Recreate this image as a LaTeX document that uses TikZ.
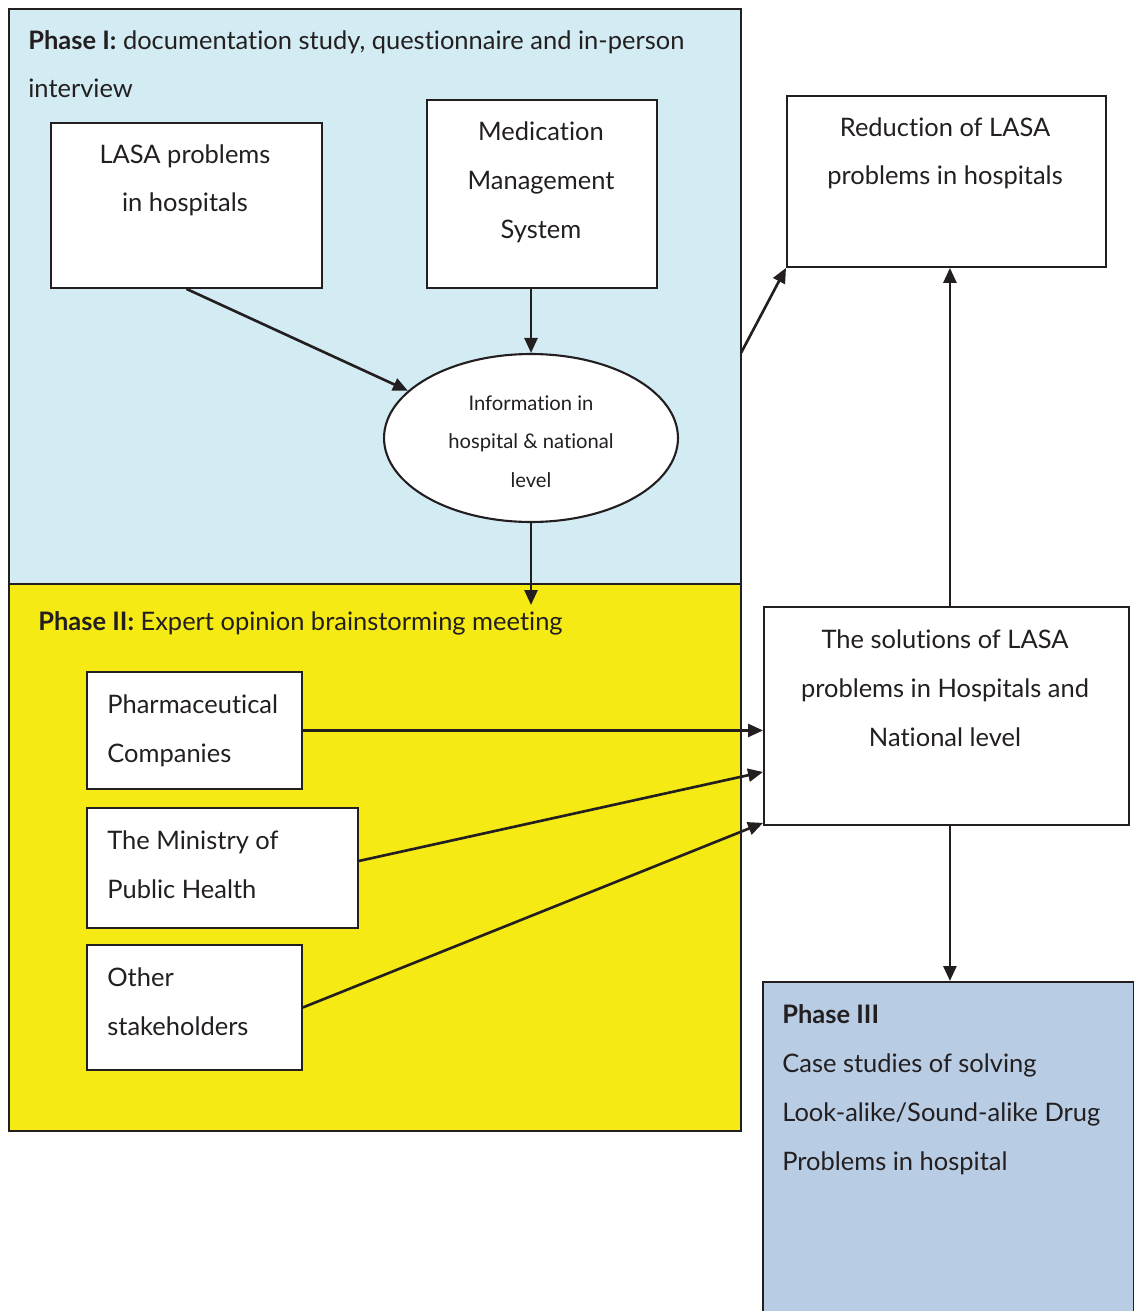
\documentclass[tikz,border=0pt]{standalone}
\usepackage{fontspec}
\setmainfont{Lato}[Ligatures={NoCommon}]
\usetikzlibrary{arrows.meta,shapes.geometric}
\definecolor{phaseblue}{HTML}{D3ECF3}
\definecolor{phaseyellow}{HTML}{F5EA14}
\definecolor{phasesteel}{HTML}{B8CCE4}
\definecolor{ink}{HTML}{231F20}
\tikzset{
  phasebox/.style={draw=ink, line width=1.1pt, anchor=north west, inner sep=0pt},
  box/.style={draw=ink, fill=white, line width=1.1pt, anchor=north west, inner sep=0pt},
  boxtext/.style={text=ink, align=center, anchor=base, inner sep=0pt, font=\fontsize{14.5}{27.8}\selectfont},
  lefttext/.style={boxtext, align=left, anchor=base west},
  smalltext/.style={boxtext, font=\fontsize{11.5}{21.8}\selectfont},
  flow/.style={draw=ink, line width=1.5pt, -{Triangle[length=3mm,width=2.6mm]}},
}
\begin{document}
\begin{tikzpicture}[x=0.02cm, y=-0.02cm]
\useasboundingbox (0,0) rectangle (1133,1311);
% phase areas (text placed by its last baseline)
\node[phasebox, fill=phaseblue, minimum width=14.64cm, minimum height=11.50cm] (phase1) at (8,8) {};
\node[phasebox, fill=phaseyellow, minimum width=14.64cm, minimum height=10.94cm] (phase2) at (8,583) {};
\node[phasebox, fill=phasesteel, minimum width=7.42cm, minimum height=8cm] (phase3) at (762,981) {};
\node[lefttext] (phase1-title) at (28,98) {\textbf{Phase I:} documentation study, questionnaire and in-person\\interview};
\node[lefttext] (phase2-title) at (38,630) {\textbf{Phase II:} Expert opinion brainstorming meeting};
\node[lefttext] (phase3-title) at (782,1170) {\textbf{Phase III}\\Case studies of solving\\Look-alike/Sound-alike Drug\\Problems in hospital};
% phase I boxes
\node[box, minimum width=5.42cm, minimum height=3.30cm] (lasa) at (50,122) {};
\node[boxtext] (lasa-text) at (185,212) {LASA problems\\in hospitals};
\node[box, minimum width=4.60cm, minimum height=3.76cm] (mms) at (426,99) {};
\node[boxtext] (mms-text) at (541,238) {Medication\\Management\\System};
\node[ellipse, draw=ink, fill=white, line width=1.2pt, minimum width=5.88cm, minimum height=3.36cm, inner sep=0pt] (info) at (531,438) {};
\node[smalltext] (info-text) at (531,487) {Information in\\hospital \& national\\level};
% right column
\node[box, minimum width=6.38cm, minimum height=3.42cm] (reduc) at (786,95) {};
\node[boxtext] (reduc-text) at (945,185) {Reduction of LASA\\problems in hospitals};
\node[box, minimum width=7.30cm, minimum height=4.36cm] (solu) at (763,606) {};
\node[boxtext] (solu-text) at (945,746) {The solutions of LASA\\problems in Hospitals and\\National level};
% phase II boxes
\node[box, minimum width=4.30cm, minimum height=2.34cm] (pharma) at (86,671) {};
\node[lefttext] (pharma-text) at (107,762) {Pharmaceutical\\Companies};
\node[box, minimum width=5.42cm, minimum height=2.40cm] (ministry) at (86,807) {};
\node[lefttext] (ministry-text) at (107,898) {The Ministry of\\Public Health};
\node[box, minimum width=4.30cm, minimum height=2.50cm] (other) at (86,944) {};
\node[lefttext] (other-text) at (107,1035) {Other\\stakeholders};
\coordinate (info-end) at (531,605);
\coordinate (phase1-exit) at (741,353);
% connectors
\draw[flow] (lasa.south) -- (info.159);
\draw[flow] (info.north |- mms.south) -- (info.north);
\draw[flow] (info.south) -- (info-end);
\draw[flow] (phase1-exit) -- (reduc.south west);
\draw[flow] ([xshift=0.07cm]solu.north) -- ([xshift=0.07cm]solu.north |- reduc.south);
\draw[flow] ([xshift=0.07cm]solu.south) -- ([xshift=0.07cm]solu.south |- phase3.north);
\draw[flow] (pharma.east) -- (pharma.east -| solu.west);
\draw[flow] ([yshift=0.14cm]ministry.east) -- ([yshift=-1.12cm]solu.west);
\draw[flow] (other.east) -- ([yshift=0.06cm]solu.south west);
\end{tikzpicture}
\end{document}
